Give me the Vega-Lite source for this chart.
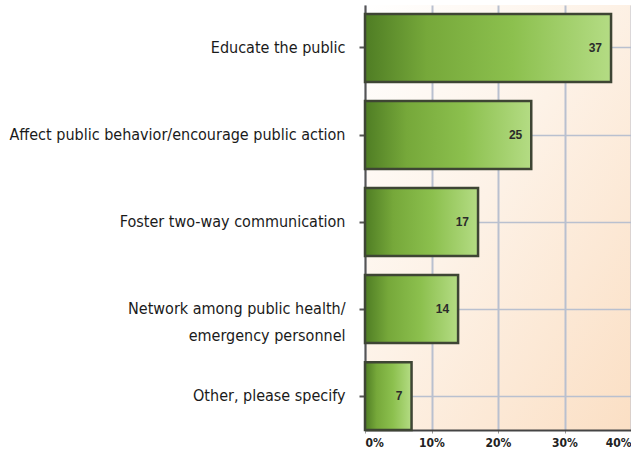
{
  "$schema": "https://vega.github.io/schema/vega-lite/v6.json",
  "width": 266,
  "height": 425,
  "padding": {"left": 9, "top": 5, "right": 1, "bottom": 5},
  "background": "white",
  "config": {
    "view": {
      "stroke": null,
      "fill": {
        "gradient": "linear",
        "x1": 0, "y1": 0, "x2": 1, "y2": 1,
        "stops": [
          {"offset": 0, "color": "#ffffff"},
          {"offset": 0.45, "color": "#fdf2e7"},
          {"offset": 1, "color": "#fbdfc4"}
        ]
      }
    }
  },
  "data": {
    "values": [
      {"category": "Educate the public", "value": 37},
      {"category": "Affect public behavior/encourage public action", "value": 25},
      {"category": "Foster two-way communication", "value": 17},
      {"category": "Network among public health/|emergency personnel", "value": 14},
      {"category": "Other, please specify", "value": 7}
    ]
  },
  "encoding": {
    "y": {
      "field": "category",
      "type": "nominal",
      "sort": null,
      "scale": {"paddingInner": 0.22, "paddingOuter": 0.052, "align": 1},
      "axis": {
        "title": null,
        "bandPosition": 0.5,
        "labelExpr": "split(datum.label, '|')",
        "labelFont": "DejaVu Sans Condensed, Roboto Condensed, Roboto, sans-serif",
        "labelFontSize": 16,
        "labelColor": "#1a1a1a",
        "labelPadding": 14,
        "labelLineHeight": 27,
        "labelLimit": 400,
        "tickSize": 6,
        "tickColor": "#555555",
        "tickWidth": 2,
        "domainColor": "#555555",
        "domainWidth": 2,
        "grid": true,
        "gridColor": "#b9c0cf",
        "gridWidth": 1.5
      }
    },
    "x": {
      "field": "value",
      "type": "quantitative",
      "scale": {"domain": [0, 40], "nice": false},
      "axis": {
        "title": null,
        "values": [0, 10, 20, 30, 40],
        "format": "d",
        "labelExpr": "datum.value + '%'",
        "labelFlush": true,
        "labelFont": "DejaVu Sans Condensed, Roboto Condensed, Roboto, sans-serif",
        "labelFontWeight": "bold",
        "labelFontSize": 12,
        "labelColor": "#222222",
        "labelPadding": 4,
        "tickSize": 3,
        "tickColor": "#999999",
        "domainColor": "#444444",
        "domainWidth": 2,
        "grid": true,
        "gridColor": "#b9c0cf",
        "gridWidth": 2
      }
    }
  },
  "layer": [
    {
      "mark": {
        "type": "bar",
        "stroke": "#3e4534",
        "strokeWidth": 2.5,
        "fill": {
          "gradient": "linear",
          "x1": 0, "y1": 0, "x2": 1, "y2": 0,
          "stops": [
            {"offset": 0, "color": "#4f7d24"},
            {"offset": 0.25, "color": "#76a83a"},
            {"offset": 0.6, "color": "#8cc04e"},
            {"offset": 1, "color": "#b4dc84"}
          ]
        }
      }
    },
    {
      "mark": {
        "type": "text",
        "align": "right",
        "dx": -9,
        "font": "Liberation Sans",
        "fontWeight": "bold",
        "fontSize": 12,
        "color": "#2b2b2b"
      },
      "encoding": {"text": {"field": "value", "type": "quantitative"}}
    }
  ]
}
